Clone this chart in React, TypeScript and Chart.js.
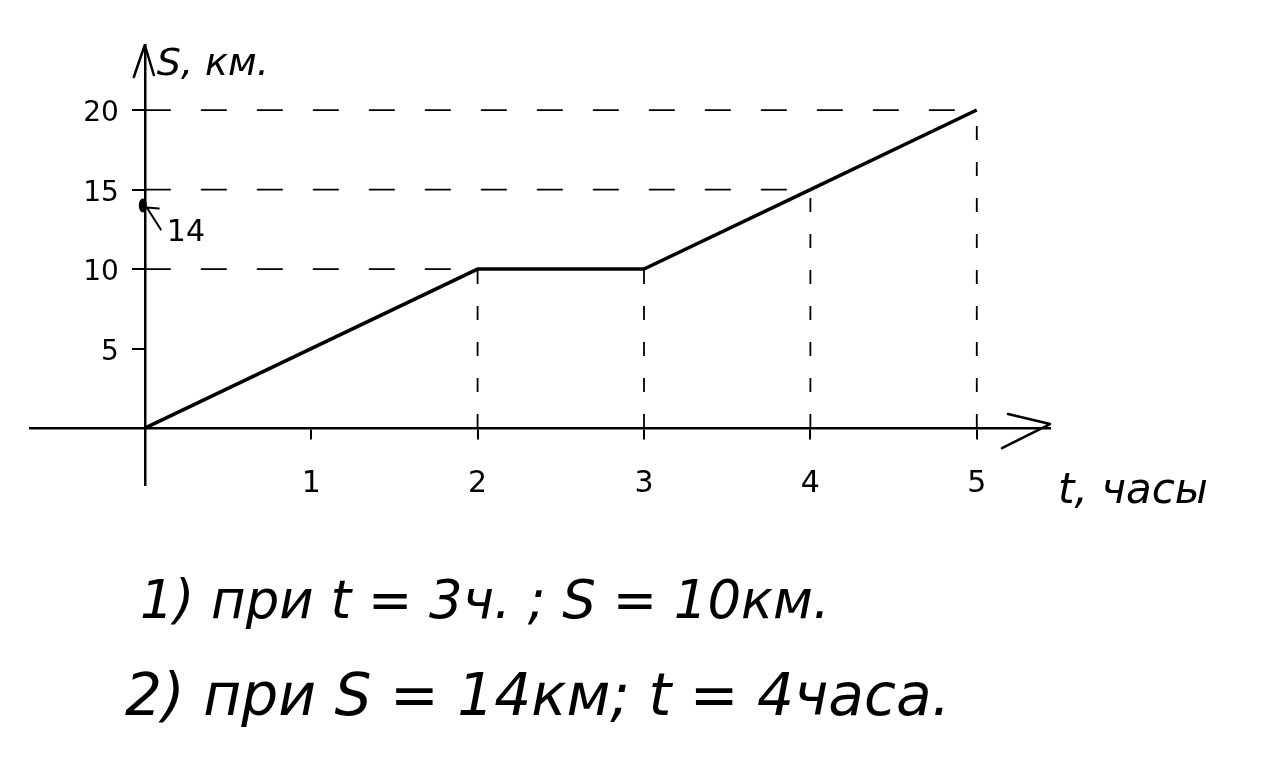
import React, { useEffect, useRef } from "react";
import { Chart, registerables } from "chart.js";

Chart.register(...registerables);

// ---- data ----
const timeHours = [0, 2, 3, 4, 5];
const distanceKm = [0, 10, 10, 15, 20];
const xTickValues = [1, 2, 3, 4, 5];
const yTickValues = [5, 10, 15, 20];
const guideLevels = [10, 15, 20];
const guideEnds = [2, 4, 5];
const xAxisTitle = "t, часы";
const yAxisTitle = "S, км.";
const markedDistance = 14;
const markedLabel = "14";
const answerLines = ["1) при t = 3ч. ; S = 10км.", "2) при S = 14км; t = 4часа."];

const FONT = "'DejaVu Sans', 'Noto Sans', sans-serif";

const handPlugin = {
  id: "handNotes",
  afterDraw(chart: any) {
    const { ctx, chartArea: ca } = chart;
    const xs = chart.scales.x;
    const ys = chart.scales.y;
    const ox = xs.getPixelForValue(0);
    const oy = ys.getPixelForValue(0);
    ctx.save();
    ctx.strokeStyle = "#000";
    ctx.fillStyle = "#000";
    ctx.lineWidth = 2.5;
    ctx.lineCap = "round";
    ctx.lineJoin = "round";

    // x-axis arrow
    ctx.beginPath();
    ctx.moveTo(ca.right - 42, oy - 14);
    ctx.lineTo(ca.right, oy - 4);
    ctx.lineTo(ca.right - 48, oy + 20);
    ctx.stroke();

    // y-axis arrow
    ctx.beginPath();
    ctx.moveTo(ox - 11, ca.top + 32);
    ctx.lineTo(ox, ca.top);
    ctx.lineTo(ox + 9, ca.top + 30);
    ctx.stroke();

    // y tick labels (left of the S axis)
    ctx.font = `28px ${FONT}`;
    ctx.textAlign = "right";
    ctx.textBaseline = "middle";
    yTickValues.forEach((v) => {
      ctx.fillText(String(v), ox - 26, ys.getPixelForValue(v) + 4);
    });

    // axis titles
    ctx.textAlign = "left";
    ctx.font = `italic 38px ${FONT}`;
    ctx.fillText(yAxisTitle, ox + 12, ca.top + 20);
    ctx.font = `italic 42px ${FONT}`;
    ctx.fillText(xAxisTitle, ca.right + 8, oy + 64);

    // marked value 14 on the S axis
    const py = ys.getPixelForValue(markedDistance);
    ctx.beginPath();
    ctx.ellipse(ox - 2, py, 4, 7, 0, 0, Math.PI * 2);
    ctx.fill();
    ctx.lineWidth = 2;
    ctx.beginPath();
    ctx.moveTo(ox + 16, py + 24);
    ctx.lineTo(ox + 2, py + 2);
    ctx.moveTo(ox + 2, py + 2);
    ctx.lineTo(ox + 14, py + 3);
    ctx.stroke();
    ctx.font = `30px ${FONT}`;
    ctx.fillText(markedLabel, ox + 22, py + 28);

    // answers
    const targets = [
      { left: 140, width: 690, cy: 604 },
      { left: 125, width: 825, cy: 700 },
    ];
    answerLines.forEach((line, i) => {
      const t = targets[i];
      ctx.font = `italic 40px ${FONT}`;
      const w = ctx.measureText(line).width;
      const size = Math.min(60, (40 * t.width) / w);
      ctx.font = `italic ${size.toFixed(1)}px ${FONT}`;
      ctx.fillText(line, t.left, t.cy);
    });
    ctx.restore();
  },
};

export default function App() {
  const ref = useRef<HTMLCanvasElement | null>(null);

  useEffect(() => {
    if (!ref.current) return;
    const dashed = {
      borderColor: "#000",
      borderWidth: 1.8,
      pointRadius: 0,
      fill: false,
    };
    const datasets: any[] = [
      {
        label: "S(t)",
        data: timeHours.map((t, i) => ({ x: t, y: distanceKm[i] })),
        borderColor: "#000",
        borderWidth: 3.5,
        pointRadius: 0,
        fill: false,
        tension: 0,
      },
    ];
    guideLevels.forEach((lvl, i) => {
      datasets.push({
        ...dashed,
        borderDash: [26, 30],
        label: `h${lvl}`,
        data: [
          { x: 0, y: lvl },
          { x: guideEnds[i], y: lvl },
        ],
      });
    });
    timeHours.forEach((t, i) => {
      if (t === 0) return;
      datasets.push({
        ...dashed,
        borderDash: [14, 22],
        label: `v${t}`,
        data: [
          { x: t, y: 0 },
          { x: t, y: distanceKm[i] },
        ],
      });
    });

    const chart = new Chart(ref.current, {
      type: "line",
      data: { datasets },
      plugins: [handPlugin],
      options: {
        animation: false,
        responsive: false,
        maintainAspectRatio: false,
        layout: { padding: { left: 30, right: 212, top: 45, bottom: 285 } },
        plugins: { legend: { display: false }, tooltip: { enabled: false } },
        scales: {
          x: {
            type: "linear",
            min: -0.69,
            max: 5.44,
            position: { y: 0 } as any,
            afterBuildTicks: (s: any) => {
              s.ticks = xTickValues.map((v) => ({ value: v }));
            },
            grid: { drawOnChartArea: false, drawTicks: true, tickLength: 10, color: "#000", lineWidth: 2 },
            border: { display: true, color: "#000", width: 2.5 },
            ticks: {
              color: "#000",
              padding: 28,
              autoSkip: false,
              maxRotation: 0,
              font: { family: FONT, size: 30 },
              callback: (v: any) => String(v),
            },
          },
          y: {
            type: "linear",
            min: -3.58,
            max: 24.09,
            position: { x: 0 } as any,
            afterBuildTicks: (s: any) => {
              s.ticks = yTickValues.map((v) => ({ value: v }));
            },
            grid: { drawOnChartArea: false, drawTicks: true, tickLength: 12, color: "#000", lineWidth: 2 },
            border: { display: true, color: "#000", width: 2.5 },
            ticks: { display: false },
          },
        },
      },
    });
    return () => chart.destroy();
  }, []);

  return (
    <div style={{ position: "fixed", left: 0, top: 0, width: 1262, height: 770, background: "#fff" }}>
      <canvas ref={ref} width={1262} height={770} style={{ width: 1262, height: 770, display: "block" }} />
    </div>
  );
}
